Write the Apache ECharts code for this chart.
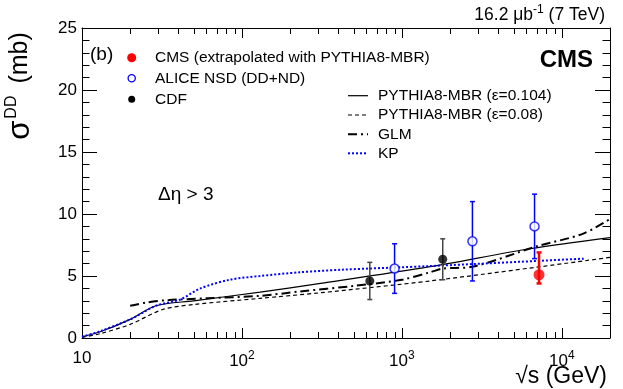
<!DOCTYPE html>
<html>
<head>
<meta charset="utf-8">
<title>sigma DD vs sqrt(s)</title>
<script src="https://cdn.jsdelivr.net/npm/echarts@6/dist/echarts.min.js"></script>
<style>
  html, body { margin: 0; padding: 0; background: #fff; }
  #chart { width: 623px; height: 389px; }
</style>
</head>
<body>
<div id="chart"></div>
<script>
// measured points: sqrt(s) in GeV, sigma_DD in mb, error bar ends
const cmsX = [7200];
const cmsY = [5.1];
const cmsLow = [4.4];
const cmsHigh = [6.9];

const aliceX = [900, 2760, 6750];
const aliceY = [5.6, 7.8, 9.0];
const aliceLow = [3.6, 4.6, 6.4];
const aliceHigh = [7.6, 11.0, 11.6];

const cdfX = [630, 1800];
const cdfY = [4.6, 6.35];
const cdfLow = [3.1, 4.7];
const cdfHigh = [6.1, 8.0];

// model curves
const mbr104X = [10, 13, 20, 29, 50, 130, 310, 1500, 6300, 20000];
const mbr104Y = [0.1, 0.5, 1.5, 2.6, 3.0, 3.7, 4.4, 5.75, 7.2, 8.1];

const mbr08X = [10, 13, 20, 32, 50, 130, 310, 1500, 20000];
const mbr08Y = [0.05, 0.35, 1.1, 2.3, 2.7, 3.2, 3.65, 4.6, 6.5];

const glmX = [20, 25, 34, 60, 130, 230, 500, 1000, 1500, 1800, 2760, 7000, 13500, 20000];
const glmY = [2.6, 2.85, 3.05, 3.2, 3.4, 3.75, 4.2, 4.7, 5.3, 5.6, 5.75, 7.4, 8.4, 9.6];

const kpX = [10, 13, 20, 29, 41, 55, 84, 130, 230, 410, 1500, 13700];
const kpY = [0.1, 0.55, 1.5, 2.6, 3.1, 4.0, 4.7, 5.0, 5.3, 5.5, 5.8, 6.4];

// axis ticks
const xMajorTicks = [10, 100, 1000, 10000];
const xTickLabels = ['{n|10}', '{n|10}{s|2}', '{n|10}{s|3}', '{n|10}{s|4}'];
const xMinorTicks = [20, 30, 40, 50, 60, 70, 80, 90,
  200, 300, 400, 500, 600, 700, 800, 900,
  2000, 3000, 4000, 5000, 6000, 7000, 8000, 9000];

const FONT = 'Liberation Sans';
const BLUE = '#0000ff';
const RED = '#ff0000';

const zip = (xs, ys) => xs.map((x, i) => [x, ys[i]]);
const zip3 = (xs, a, b) => xs.map((x, i) => [x, a[i], b[i]]);

// vertical error bar with small caps
function errorBar(color, width) {
  return function (params, api) {
    const x = api.value(0);
    const lo = api.coord([x, api.value(1)]);
    const hi = api.coord([x, api.value(2)]);
    const cap = 2.5;
    const st = { stroke: color, lineWidth: width };
    return {
      type: 'group',
      children: [
        { type: 'line', shape: { x1: lo[0], y1: lo[1], x2: hi[0], y2: hi[1] }, style: st },
        { type: 'line', shape: { x1: lo[0] - cap, y1: lo[1], x2: lo[0] + cap, y2: lo[1] }, style: st },
        { type: 'line', shape: { x1: hi[0] - cap, y1: hi[1], x2: hi[0] + cap, y2: hi[1] }, style: st }
      ]
    };
  };
}

// log minor ticks on bottom and top of the frame
function minorTickItem(params, api) {
  const p = api.coord([api.value(0), 0]);
  const x = Math.round(p[0]) + 0.5;
  const top = params.coordSys.y;
  const st = { stroke: '#000', lineWidth: 1 };
  return {
    type: 'group',
    children: [
      { type: 'line', shape: { x1: x, y1: p[1], x2: x, y2: p[1] - 6 }, style: st },
      { type: 'line', shape: { x1: x, y1: top, x2: x, y2: top + 6 }, style: st }
    ]
  };
}

const axisLine = { show: true, onZero: false, lineStyle: { color: '#000', width: 1 } };

const yAxisBase = {
  type: 'value',
  min: 0,
  max: 25,
  interval: 5,
  axisLine: axisLine,
  axisTick: { show: true, inside: true, length: 15, lineStyle: { color: '#000' } },
  minorTick: { show: true, splitNumber: 5, length: 7.5, lineStyle: { color: '#000' } },
  splitLine: { show: false }
};

const xAxisBase = {
  type: 'log',
  logBase: 10,
  min: 10,
  max: 20000,
  axisLine: axisLine,
  axisTick: { show: true, inside: true, length: 10, lineStyle: { color: '#000' } },
  splitLine: { show: false }
};

const legendText = (x, y, text) => ({
  type: 'text', x: x, y: y,
  style: { text: text, fontFamily: FONT, fontSize: 15.5, fill: '#000', verticalAlign: 'middle' }
});

const option = {
  animation: false,
  backgroundColor: '#fff',
  grid: { left: 82, right: 13, top: 28, bottom: 51 },
  xAxis: [
    Object.assign({}, xAxisBase, {
      position: 'bottom',
      axisLabel: {
        margin: 12,
        fontFamily: FONT,
        fontSize: 17,
        color: '#000',
        showMaxLabel: false,
        formatter: function (v) {
          const i = xMajorTicks.indexOf(Math.round(v));
          return i >= 0 ? xTickLabels[i] : '';
        },
        rich: {
          n: { fontFamily: FONT, fontSize: 17, color: '#000' },
          s: { fontFamily: FONT, fontSize: 12, color: '#000', padding: [0, 0, 11, 0] }
        }
      }
    }),
    Object.assign({}, xAxisBase, { position: 'top', axisLabel: { show: false } })
  ],
  yAxis: [
    Object.assign({}, yAxisBase, {
      position: 'left',
      axisLabel: { margin: 5, fontFamily: FONT, fontSize: 17, color: '#000' }
    }),
    Object.assign({}, yAxisBase, { position: 'right', axisLabel: { show: false } })
  ],
  series: [
    {
      name: 'minor ticks', type: 'custom', renderItem: minorTickItem,
      data: xMinorTicks.map(v => [v, 0]), silent: true, clip: false, z: 1
    },
    {
      name: 'PYTHIA8-MBR (ε=0.104)', type: 'line', data: zip(mbr104X, mbr104Y),
      symbol: 'none', smooth: 0.3, lineStyle: { color: '#000', width: 1.2 }, z: 3
    },
    {
      name: 'PYTHIA8-MBR (ε=0.08)', type: 'line', data: zip(mbr08X, mbr08Y),
      symbol: 'none', smooth: 0.3, lineStyle: { color: '#000', width: 1.2, type: [4, 3] }, z: 3
    },
    {
      name: 'GLM', type: 'line', data: zip(glmX, glmY),
      symbol: 'none', smooth: 0.3, lineStyle: { color: '#000', width: 2, type: [9, 4, 2, 4] }, z: 3
    },
    {
      name: 'KP', type: 'line', data: zip(kpX, kpY),
      symbol: 'none', smooth: 0.3, lineStyle: { color: BLUE, width: 2, type: [2, 2] }, z: 3
    },
    {
      name: 'CDF err', type: 'custom', renderItem: errorBar('#444', 1.5),
      data: zip3(cdfX, cdfLow, cdfHigh), encode: { x: 0, y: [1, 2] }, z: 4
    },
    {
      name: 'ALICE err', type: 'custom', renderItem: errorBar(BLUE, 1.5),
      data: zip3(aliceX, aliceLow, aliceHigh), encode: { x: 0, y: [1, 2] }, z: 4
    },
    {
      name: 'CMS err', type: 'custom', renderItem: errorBar(RED, 2.5),
      data: zip3(cmsX, cmsLow, cmsHigh), encode: { x: 0, y: [1, 2] }, z: 4
    },
    {
      name: 'CDF', type: 'scatter', data: zip(cdfX, cdfY), symbol: 'circle', symbolSize: 9,
      itemStyle: { color: '#000' }, z: 5
    },
    {
      name: 'ALICE NSD (DD+ND)', type: 'scatter', data: zip(aliceX, aliceY), symbol: 'circle', symbolSize: 9,
      itemStyle: { color: '#fff', borderColor: BLUE, borderWidth: 1.5 }, z: 5
    },
    {
      name: 'CMS (extrapolated with PYTHIA8-MBR)', type: 'scatter', data: zip(cmsX, cmsY), symbol: 'circle', symbolSize: 11,
      itemStyle: { color: RED }, z: 5
    }
  ],
  graphic: [
    // top-right luminosity label
    {
      type: 'text', x: 605, y: 15,
      style: {
        text: '{n|16.2 μb}{s|-1}{n| (7 TeV)}', align: 'right', verticalAlign: 'middle',
        rich: {
          n: { fontFamily: FONT, fontSize: 17.5, fill: '#000' },
          s: { fontFamily: FONT, fontSize: 12, fill: '#000', padding: [0, 0, 10, 0] }
        }
      }
    },
    {
      type: 'text', x: 593, y: 60,
      style: { text: 'CMS', fontFamily: FONT, fontSize: 24, fontWeight: 'bold', fill: '#000', align: 'right', verticalAlign: 'middle' }
    },
    {
      type: 'text', x: 90, y: 55,
      style: { text: '(b)', fontFamily: FONT, fontSize: 19, fill: '#000', verticalAlign: 'middle' }
    },
    {
      type: 'text', x: 158, y: 195,
      style: { text: 'Δη > 3', fontFamily: FONT, fontSize: 19, fill: '#000', verticalAlign: 'middle' }
    },
    // axis titles
    {
      type: 'text', x: 20, y: 86, rotation: Math.PI / 2,
      style: {
        text: '{a|σ}{b|DD}{c|(mb)}', align: 'center', verticalAlign: 'middle',
        rich: {
          a: { fontFamily: FONT, fontSize: 31, fill: '#000' },
          b: { fontFamily: FONT, fontSize: 16, fill: '#000', padding: [0, 12, 16, 2] },
          c: { fontFamily: FONT, fontSize: 25, fill: '#000' }
        }
      }
    },
    {
      type: 'text', x: 607, y: 377,
      style: { text: '√s (GeV)', fontFamily: FONT, fontSize: 23, fill: '#000', align: 'right', verticalAlign: 'middle' }
    },
    // left legend (markers)
    { type: 'circle', shape: { cx: 131.7, cy: 57.7, r: 4.5 }, style: { fill: RED } },
    { type: 'circle', shape: { cx: 131.7, cy: 78.3, r: 3.6 }, style: { fill: '#fff', stroke: BLUE, lineWidth: 1.3 } },
    { type: 'circle', shape: { cx: 131.7, cy: 99.3, r: 3.5 }, style: { fill: '#000' } },
    legendText(155, 57.7, 'CMS (extrapolated with PYTHIA8-MBR)'),
    legendText(155, 78.3, 'ALICE NSD (DD+ND)'),
    legendText(155, 99.3, 'CDF'),
    // right legend (curves)
    { type: 'line', shape: { x1: 348, y1: 95.7, x2: 368, y2: 95.7 }, style: { stroke: '#000', lineWidth: 1.2 } },
    { type: 'line', shape: { x1: 348, y1: 115, x2: 368, y2: 115 }, style: { stroke: '#000', lineWidth: 1.2, lineDash: [4, 3] } },
    { type: 'line', shape: { x1: 348, y1: 134.3, x2: 368, y2: 134.3 }, style: { stroke: '#000', lineWidth: 2, lineDash: [9, 4, 2, 4] } },
    { type: 'line', shape: { x1: 348, y1: 153.3, x2: 368, y2: 153.3 }, style: { stroke: BLUE, lineWidth: 2, lineDash: [2, 2] } },
    legendText(378, 95.7, 'PYTHIA8-MBR (ε=0.104)'),
    legendText(378, 115, 'PYTHIA8-MBR (ε=0.08)'),
    legendText(378, 134.3, 'GLM'),
    legendText(378, 153.3, 'KP')
  ]
};

const chart = echarts.init(document.getElementById('chart'), null, { renderer: 'canvas' });
chart.setOption(option);
</script>
</body>
</html>
